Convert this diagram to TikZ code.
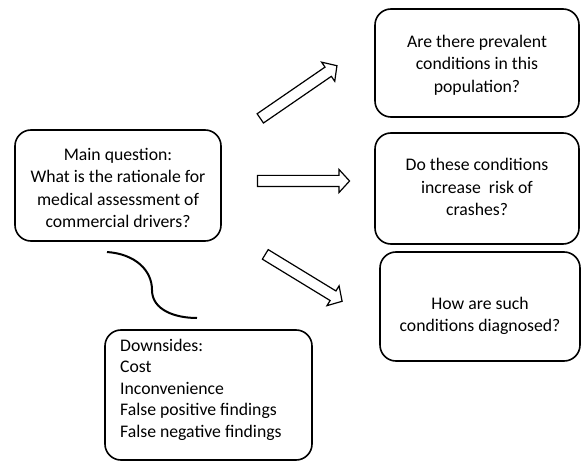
\documentclass[tikz,border=0pt]{standalone}
\usepackage{fontspec}
\setmainfont{Carlito}
\usetikzlibrary{shapes.arrows}

\begin{document}
\begin{tikzpicture}[x=1pt,y=-1pt,
    font=\fontsize{17.7}{22.5}\selectfont,
    qbox/.style={draw, line width=1.6pt, rounded corners=16pt, inner sep=0pt},
    qtext/.style={align=center, inner sep=0pt},
    fatarrow/.style={single arrow, draw, line width=1.2pt, fill=white,
        inner xsep=0pt, inner ysep=5pt, single arrow head extend=6pt,
        single arrow tip angle=95}]
    \useasboundingbox (0,0) rectangle (583,462);
    % Main question
    \node[qbox, minimum width=206pt, minimum height=111pt] (main) at (118,185.5) {};
    \node[qtext] (maintext) at (118,188) {Main question:\\What is the rationale for\\medical assessment of\\commercial drivers?};
    % Questions on the right
    \node[qbox, minimum width=204pt, minimum height=108pt] (prev) at (477,63) {};
    \node[qtext] (prevtext) at (477,65) {Are there prevalent\\conditions in this\\population?};
    \node[qbox, minimum width=204pt, minimum height=111pt] (risk) at (477,188.5) {};
    \node[qtext] (risktext) at (477,187) {Do these conditions\\increase\ \ risk of\\crashes?};
    \node[qbox, minimum width=200pt, minimum height=109pt] (diag) at (480,306.5) {};
    \node[qtext] (diagtext) at (480,316) {How are such\\conditions diagnosed?};
    % Block arrows
    \node[fatarrow, minimum height=93pt, rotate=34.5] (arrprev) at (296.5,93.5) {};
    \node[fatarrow, minimum height=92pt] (arrrisk) at (301,181) {};
    \node[fatarrow, minimum height=90pt, rotate=-31.4] (arrdiag) at (301.5,276.5) {};
    % Downsides
    \node[qbox, minimum width=207pt, minimum height=130pt] (down) at (208.5,395) {};
    \node[align=left, inner sep=0pt, anchor=north west,
        font=\fontsize{17.7}{21.5}\selectfont] (downtext) at (120,339)
        {Downsides:\\Cost\\Inconvenience\\False positive findings\\False negative findings};
    % Curved link
    \draw[line width=2pt] (107,252) .. controls (135,254) and (152,270) .. (152,290)
        .. controls (152,310) and (175,318) .. (197,318);
\end{tikzpicture}
\end{document}
